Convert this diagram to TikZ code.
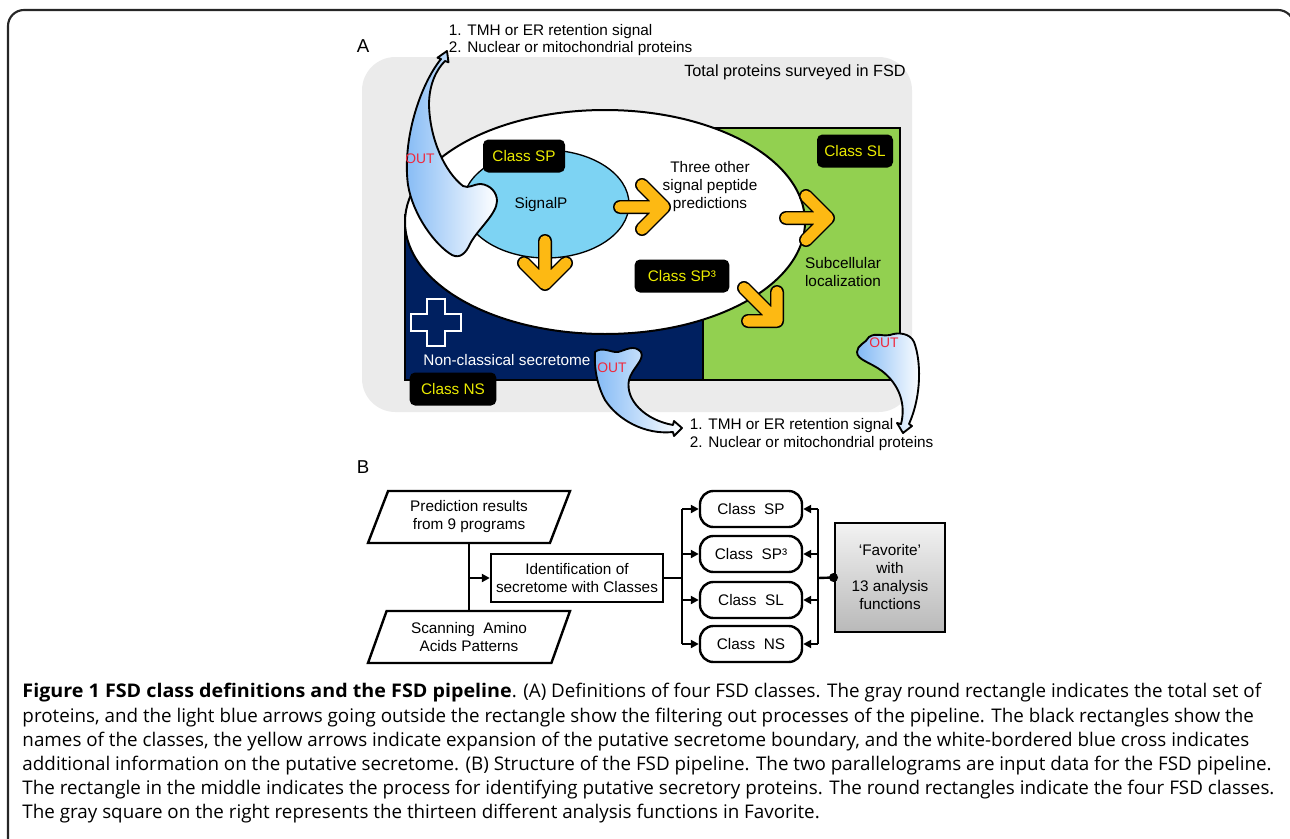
\documentclass[tikz,border=0pt]{standalone}
\usepackage{fontspec}
\setmainfont{Liberation Sans}
\newfontfamily\capfont{Open Sans}
\usetikzlibrary{arrows.meta,shapes.geometric,positioning}

\definecolor{panelgray}{RGB}{235,235,235}
\definecolor{nsnavy}{RGB}{0,32,96}
\definecolor{slgreen}{RGB}{146,208,80}
\definecolor{spcyan}{RGB}{125,211,243}
\definecolor{arrowyellow}{RGB}{253,185,19}
\definecolor{classyellow}{RGB}{235,235,0}
\definecolor{outblue}{RGB}{130,185,245}
\definecolor{outred}{RGB}{240,40,60}

\tikzset{every picture/.style={line width=0.75pt}}
\tikzset{
  figtext/.style={font=\fontsize{11.5}{13.5}\selectfont},
  classtag/.style={figtext, fill=black, rounded corners=4pt, text=classyellow, minimum height=24.75pt, inner sep=0pt},
  yarrow/.style={draw=black, double=arrowyellow, double distance=8.3pt, line width=1.1pt, line cap=round, line join=round},
  outarrow/.style={draw=black, line width=1.4pt, line join=round, left color=outblue, right color=white},
  outlabel/.style={text=outred, font=\fontsize{10.4}{12}\selectfont},
  inparallel/.style={figtext, trapezium, trapezium left angle=64, trapezium right angle=116, trapezium stretches body, draw, line width=1.8pt, minimum width=151.5pt, minimum height=39pt, align=center},
  classbox/.style={figtext, draw, line width=1.8pt, rounded corners=10pt, minimum width=76.5pt, minimum height=27pt},
  flow/.style={line width=1.8pt},
  captionline/.style={anchor=west, inner sep=0pt, font=\capfont\fontsize{14.1}{17}\selectfont}
}

\begin{document}
\begin{tikzpicture}[x=0.75pt,y=0.75pt,yscale=-1,xscale=1]
\useasboundingbox (0,0) rectangle (1290,839);

%Shape: Frame
\draw[black!85, line width=1.6pt, rounded corners=12] (8,900) -- (8,10) -- (1294,10) -- (1294,900);

%%% Panel A
\draw (363,46) node (labA) {\fontsize{14}{16}\selectfont A};
\draw (444,32) node[figtext, anchor=west] (topone) {1. TMH or ER retention signal};
\draw (444,49) node[figtext, anchor=west] (toptwo) {2. Nuclear or mitochondrial proteins};

%Shape: Rounded rect (all proteins)
\fill[panelgray, rounded corners=25] (362,57) rectangle (912,412);
\draw (795,72) node[font=\fontsize{12.2}{14}\selectfont] (total) {Total proteins surveyed in FSD};

%Shape: Rectangle NS
\draw[fill=nsnavy, line width=1pt] (405,215) rectangle (703,380);
%Shape: Rectangle SL
\draw[fill=slgreen, line width=1pt] (703,128) rectangle (900,380);
%Shape: Ellipse SP3
\draw[fill=white, line width=1.5pt] (605,222) ellipse [x radius=200, y radius=112];
%Shape: Ellipse SP
\draw[fill=spcyan, line width=1pt] (546,204) ellipse [x radius=83, y radius=54];

%Shape: White cross
\draw[white, fill=nsnavy, line width=1.5pt] (427,299) -- (445,299) -- (445,314) -- (461,314) -- (461,331) -- (445,331) -- (445,346) -- (427,346) -- (427,331) -- (411,331) -- (411,314) -- (427,314) -- cycle;

%Curve: OUT arrow, top left
\draw[outarrow] (441,59) .. controls (420,85) and (402,140) .. (408,185) .. controls (413,215) and (435,245) .. (452,255) .. controls (460,259) and (466,253) .. (470,244) .. controls (477,230) and (497,214) .. (497,201) .. controls (497,192) and (490,185) .. (481,184) .. controls (473,184) and (469,189) .. (463,186) .. controls (445,172) and (430,140) .. (429,105) .. controls (429,85) and (436,70) .. (445,61) -- (448.5,62.3) -- (447,51) -- (437.5,57.7) -- cycle;
%Curve: OUT arrow, bottom middle
\draw[outarrow] (595,352) .. controls (602,346) and (612,353) .. (618,352) .. controls (626,350) and (634,344) .. (641,352) .. controls (645,360) and (632,368) .. (629,380) .. controls (625,400) and (645,420) .. (673,425) -- (674,421) -- (682,428) -- (674,436) -- (673,432) .. controls (645,435) and (618,420) .. (605,400) .. controls (597,385) and (594,368) .. (595,352) -- cycle;
%Curve: OUT arrow, right
\draw[outarrow] (857,352) .. controls (857,345) and (866,343) .. (869,337) .. controls (876,332) and (884,337) .. (890,335) .. controls (898,332) and (910,333) .. (914,342) .. controls (921,360) and (922,395) .. (909,424) -- (912,426) -- (903,433) -- (897,423) -- (901,424) .. controls (906,405) and (900,385) .. (882,371) .. controls (870,362) and (857,360) .. (857,352) -- cycle;

\draw (420,159) node[outlabel] (outA) {OUT};
\draw (612,368) node[outlabel] (outB) {OUT};
\draw (884,343) node[outlabel] (outC) {OUT};

%Yellow arrows
\draw[yarrow] (642,185) -- (664,207) -- (642,229) (620,207) -- (664,207);
\draw[yarrow] (524,263) -- (545,284) -- (566,263) (545,241) -- (545,284);
\draw[yarrow] (806,196) -- (828,218) -- (806,240) (786,218) -- (828,218);
\draw[yarrow] (777,292) -- (777,321) -- (748,321) (744,288) -- (777,321);

% Text Node
\draw (541,205) node[figtext] (signalp) {SignalP};
\draw (710,187) node[figtext, align=center] (threeother) {Three other\\signal peptide\\predictions};
\draw (843,272) node[figtext, align=center] (subcell) {Subcellular\\localization};
\draw (507,360) node[figtext, text=white] (noncl) {Non-classical secretome};

%Class tags
\draw (524,156) node[classtag, minimum width=61.5pt] (tagSP) {Class SP};
\draw (855,151) node[classtag, minimum width=57pt] (tagSL) {Class SL};
\draw (682,276) node[classtag, minimum width=71pt] (tagSPt) {Class SP³};
\draw (453,389) node[classtag, minimum width=65pt] (tagNS) {Class NS};

\draw (685,426) node[figtext, anchor=west] (botone) {1. TMH or ER retention signal};
\draw (685,444) node[figtext, anchor=west] (bottwo) {2. Nuclear or mitochondrial proteins};

%%% Panel B
\draw (363,467) node (labB) {\fontsize{14}{16}\selectfont B};

\node[inparallel] (pred) at (469,517) {Prediction results\\from 9 programs};
\node[inparallel] (scan) at (469,637) {Scanning~ Amino\\Acids Patterns};
\node[figtext, draw, line width=1.8pt, minimum width=129pt, minimum height=36pt, align=center] (ident) at (577,578) {Identification of\\secretome with Classes};

\node[classbox] (cSP) at (751,509) {Class~ SP};
\node[classbox] (cSPt) at (751,554) {Class~ SP³};
\node[classbox] (cSL) at (751,600) {Class~ SL};
\node[classbox] (cNS) at (751,644) {Class~ NS};

\node[figtext, draw, line width=2.2pt, top color=gray!10, bottom color=gray!55, minimum width=82.5pt, minimum height=81.75pt, align=center] (fav) at (890,577.5) {`Favorite'\\with\\13 analysis\\functions};

\coordinate (forkL) at (682,578);
\coordinate (forkR) at (818,578);

\draw[flow] (pred.center |- pred.south) -- (scan.center |- scan.north);
\draw[flow, -{Triangle[length=6pt,width=6pt]}] (pred.center |- ident.west) -- (ident.west);
\draw[flow] (ident.east) -- (forkL);
\draw[flow] (forkL |- cSP.west) -- (forkL |- cNS.west);
\draw[flow, -{Triangle[length=6pt,width=6pt]}] (forkL |- cSP.west) -- (cSP.west);
\draw[flow, -{Triangle[length=6pt,width=6pt]}] (forkL |- cSPt.west) -- (cSPt.west);
\draw[flow, -{Triangle[length=6pt,width=6pt]}] (forkL |- cSL.west) -- (cSL.west);
\draw[flow, -{Triangle[length=6pt,width=6pt]}] (forkL |- cNS.west) -- (cNS.west);
\draw[flow] (forkR |- cSP.east) -- (forkR |- cNS.east);
\draw[flow, -{Triangle[length=6pt,width=6pt]}] (forkR |- cSP.east) -- (cSP.east);
\draw[flow, -{Triangle[length=6pt,width=6pt]}] (forkR |- cSPt.east) -- (cSPt.east);
\draw[flow, -{Triangle[length=6pt,width=6pt]}] (forkR |- cSL.east) -- (cSL.east);
\draw[flow, -{Triangle[length=6pt,width=6pt]}] (forkR |- cNS.east) -- (cNS.east);
\draw[flow] (fav.west) -- (forkR);
\fill (fav.west) circle (4.5);

%%% Caption
\node[captionline] (capone) at (22,693) {\scalebox{1.048}[1]{\textbf{Figure 1 FSD class definitions and the FSD pipeline}}. (A) Definitions of four FSD classes. The gray round rectangle indicates the total set of};
\node[captionline] (captwo) at (22,718) {proteins, and the light blue arrows going outside the rectangle show the filtering out processes of the pipeline. The black rectangles show the};
\node[captionline] (capthree) at (22,742) {names of the classes, the yellow arrows indicate expansion of the putative secretome boundary, and the white-bordered blue cross indicates};
\node[captionline] (capfour) at (22,766) {additional information on the putative secretome. (B) Structure of the FSD pipeline. The two parallelograms are input data for the FSD pipeline.};
\node[captionline] (capfive) at (22,790) {The rectangle in the middle indicates the process for identifying putative secretory proteins. The round rectangles indicate the four FSD classes.};
\node[captionline] (capsix) at (22,814) {The gray square on the right represents the thirteen different analysis functions in Favorite.};

\end{tikzpicture}
\end{document}
